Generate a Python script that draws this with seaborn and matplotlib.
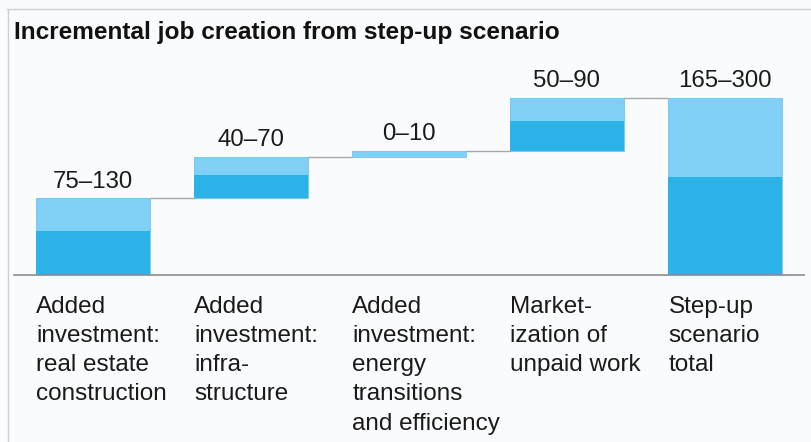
import numpy as np
import pandas as pd
import matplotlib
matplotlib.use("Agg")
import matplotlib.pyplot as plt
from matplotlib.lines import Line2D
import seaborn as sns

# ---- data ----
categories = [
    "Added\ninvestment:\nreal estate\nconstruction",
    "Added\ninvestment:\ninfra-\nstructure",
    "Added\ninvestment:\nenergy\ntransitions\nand efficiency",
    "Market-\nization of\nunpaid work",
    "Step-up\nscenario\ntotal",
]
low_values = [75, 40, 0, 50, 165]
high_values = [130, 70, 10, 90, 300]
value_labels = ["75–130", "40–70", "0–10", "50–90", "165–300"]
is_total = [False, False, False, False, True]
title = "Incremental job creation from step-up scenario"

# waterfall bases from cumulative high values
bases = []
running = 0
for h, tot in zip(high_values, is_total):
    if tot:
        bases.append(0)
    else:
        bases.append(running)
        running += h

keys = [f"c{i}" for i in range(len(categories))]
df = pd.DataFrame({"key": keys, "low": low_values, "high": high_values, "base": bases})

sns.set_theme(style="white")
plt.rcParams["font.family"] = ["Liberation Sans", "DejaVu Sans"]

BG = "#fafbfc"
LIGHT = "#80cff5"
DARK = "#2bb3e8"
BAR_W = 0.716

fig = plt.figure(figsize=(8.11, 4.42), dpi=100, facecolor=BG)
ax = fig.add_axes([14 / 811, 167 / 442, 790 / 811, 215 / 442])
ax.set_facecolor(BG)

sns.barplot(data=df, x="key", y="high", order=keys, bottom=df["base"].values,
            color=LIGHT, saturation=1, width=BAR_W, errorbar=None, ax=ax,
            edgecolor="#6cc6f0", linewidth=0.6)
sns.barplot(data=df, x="key", y="low", order=keys, bottom=df["base"].values,
            color=DARK, saturation=1, width=BAR_W, errorbar=None, ax=ax,
            linewidth=0)

ax.set_xlim(-0.5, len(keys) - 0.5)
ax.set_ylim(0, 215 / 0.591)

# connectors
for i in range(len(keys) - 1):
    top = bases[i] + high_values[i]
    ax.plot([i + BAR_W / 2, i + 1 - BAR_W / 2], [top, top], color="#a8a8a8", lw=1, zorder=1)

# value labels
for i, lab in enumerate(value_labels):
    ax.annotate(lab, (i, bases[i] + high_values[i]), xytext=(0, 4), textcoords="offset points",
                ha="center", va="bottom", fontsize=17.3, color="#1a1a1a")

# category labels
for i, lab in enumerate(categories):
    ax.text(i - BAR_W / 2, -0.098, lab, transform=ax.get_xaxis_transform(), ha="left", va="top",
            fontsize=17.5, color="#1a1a1a", linespacing=1.42)

ax.set_xlabel("")
ax.set_ylabel("")
ax.set_xticks([])
ax.set_yticks([])
for s in ["top", "right", "left"]:
    ax.spines[s].set_visible(False)
ax.spines["bottom"].set_color("#8c8c8c")
ax.spines["bottom"].set_linewidth(1.2)

fig.text(14 / 811, 1 - 32 / 442, title, ha="left", va="center", fontsize=17.6,
         fontweight="bold", color="#111111")

# frame lines
fig.add_artist(Line2D([7 / 811, 1], [1 - 9 / 442, 1 - 9 / 442], transform=fig.transFigure,
                      color="#cfcfcf", lw=1))
fig.add_artist(Line2D([8 / 811, 8 / 811], [0, 1 - 9 / 442], transform=fig.transFigure,
                      color="#cfcfcf", lw=1))

fig.savefig("out.png", dpi=100, facecolor=BG)
